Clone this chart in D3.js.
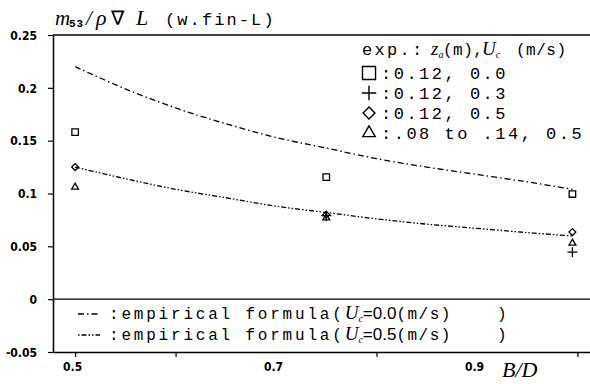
<!DOCTYPE html>
<html>
<head>
<meta charset="utf-8">
<script src="https://cdn.jsdelivr.net/npm/d3@7"></script>
<style>
  html, body { margin: 0; padding: 0; background: #fff; }
  svg { display: block; }
  .tick text { font-family: "Liberation Sans Narrow", "DejaVu Sans Condensed", sans-serif; font-size: 12px; font-weight: bold; fill: #000; }
  .mono { font-family: "Liberation Mono", "DejaVu Sans Mono", monospace; fill: #000; }
  .it { font-family: "Liberation Serif", "DejaVu Serif", serif; font-style: italic; fill: #000; }
</style>
</head>
<body>
<svg id="chart" width="590" height="384"></svg>
<script>
// B/D positions of the three hull models
const bdValues = [0.5, 0.75, 0.995];

// measured m53/(rho V L), one array per condition (z_a, U_c)
const squareVals  = [0.158, 0.1155, 0.0995];   // 0.12, 0.0
const plusVals    = [null, 0.079, 0.0445];     // 0.12, 0.3
const diamondVals = [0.125, 0.080, 0.0635];    // 0.12, 0.5
const triangleVals = [0.106, 0.077, 0.053];    // .08 to .14, 0.5

// empirical formula curves
const curveBD   = [0.5, 0.55, 0.6, 0.65, 0.7, 0.75, 0.8, 0.85, 0.9, 0.95, 0.995];
const curveUc00 = [0.220, 0.199, 0.181, 0.166, 0.153, 0.143, 0.133, 0.125, 0.118, 0.111, 0.104];
const curveUc05 = [0.125, 0.114, 0.104, 0.096, 0.088, 0.082, 0.076, 0.071, 0.067, 0.063, 0.0598];

// axis ticks
const yTicks = [-0.05, 0, 0.05, 0.1, 0.15, 0.2, 0.25];
const yTickLabels = ["-0.05", "0", "0.05", "0.1", "0.15", "0.2", "0.25"];
const xTicks = [0.5, 0.6, 0.7, 0.8, 0.9, 1.0];
const xTickLabels = ["0.5", "", "0.7", "", "0.9", ""];
const xTickMarked = [true, true, false, true, false, true];

const svg = d3.select("#chart");
const plotL = 53, plotR = 590, plotT = 35, plotB = 352;

const x = d3.scaleLinear().domain([0.478, 1.0125]).range([plotL, plotR]);
const y = d3.scaleLinear().domain([-0.05, 0.25]).range([plotB, plotT]);

// y axis
const yAxis = d3.axisLeft(y).tickValues(yTicks).tickSize(5).tickSizeOuter(0)
  .tickFormat((d, i) => yTickLabels[i]);
const gy = svg.append("g").attr("transform", `translate(${plotL},0)`).call(yAxis);
gy.select(".domain").attr("stroke", "#000").attr("stroke-width", 1.5);
gy.selectAll(".tick line").attr("stroke", "#000").attr("stroke-width", 1.2);
gy.selectAll(".tick text").attr("x", -16).attr("dy", "0.35em");

// x axis
const xAxis = d3.axisBottom(x).tickValues(xTicks).tickSize(5).tickSizeOuter(0)
  .tickFormat((d, i) => xTickLabels[i]);
const gx = svg.append("g").attr("transform", `translate(0,${plotB})`).call(xAxis);
gx.select(".domain").attr("stroke", "#000").attr("stroke-width", 1.5);
gx.selectAll(".tick line").attr("stroke", "#000").attr("stroke-width", 1.2)
  .attr("y2", (d, i) => xTickMarked[i] ? 5 : 0);
gx.selectAll(".tick text").attr("y", 10).attr("dy", "0.71em").attr("dx", -3);

// frame top line and zero line
svg.append("line").attr("x1", plotL).attr("x2", plotR).attr("y1", y(0.25)).attr("y2", y(0.25))
  .attr("stroke", "#000").attr("stroke-width", 1.5);
svg.append("line").attr("x1", plotL).attr("x2", plotR).attr("y1", y(0)).attr("y2", y(0))
  .attr("stroke", "#000").attr("stroke-width", 1.2);

// empirical curves
const line = d3.line().x(d => x(d[0])).y(d => y(d[1])).curve(d3.curveCatmullRom);
svg.append("path").datum(curveBD.map((b, i) => [b, curveUc00[i]]))
  .attr("d", line).attr("fill", "none").attr("stroke", "#000").attr("stroke-width", 1.3)
  .attr("stroke-dasharray", "6,3,1.5,3");
svg.append("path").datum(curveBD.map((b, i) => [b, curveUc05[i]]))
  .attr("d", line).attr("fill", "none").attr("stroke", "#000").attr("stroke-width", 1.3)
  .attr("stroke-dasharray", "5,2,1.5,2,1.5,2");

// markers
const mk = { fill: "none", stroke: "#000", "stroke-width": 1.3 };
function applyAttrs(sel) { Object.entries(mk).forEach(([k, v]) => sel.attr(k, v)); return sel; }

const symSquare = d3.symbol().type(d3.symbolSquare).size(42);
const symDiamond = d3.symbol().type(d3.symbolDiamond2).size(30);
const symTriangle = d3.symbol().type(d3.symbolTriangle2).size(34);
const symPlus = d3.symbol().type(d3.symbolPlus).size(34);

function drawSeries(vals, sym) {
  const pts = bdValues.map((b, i) => [b, vals[i]]).filter(d => d[1] != null);
  applyAttrs(svg.append("g").selectAll("path").data(pts).join("path")
    .attr("transform", d => `translate(${x(d[0])},${y(d[1])})`)
    .attr("d", sym));
}
drawSeries(squareVals, symSquare);
drawSeries(plusVals, symPlus);
drawSeries(diamondVals, symDiamond);
drawSeries(triangleVals, symTriangle);

// title
const title = svg.append("text").attr("y", 25);
title.append("tspan").attr("class", "it").attr("font-size", 21).attr("x", 55).text("m");
title.append("tspan").attr("class", "mono").attr("font-size", 11).attr("font-weight", "bold")
  .attr("x", 69).attr("dy", 2).attr("letter-spacing", 1).text("53");
title.append("tspan").attr("class", "it").attr("font-size", 21).attr("x", 86).attr("dy", -2).text("/");
title.append("tspan").attr("class", "it").attr("font-size", 22).attr("x", 96).text("ρ");
title.append("tspan").attr("font-family", "DejaVu Sans").attr("font-size", 20).attr("x", 111).text("∇");
title.append("tspan").attr("class", "it").attr("font-size", 22).attr("x", 136).text("L");
title.append("tspan").attr("class", "mono").attr("font-size", 17).attr("x", 165)
  .attr("letter-spacing", 2.1).text("(w.fin-L)");

// x axis title
svg.append("text").attr("class", "it").attr("x", 502).attr("y", 377).attr("font-size", 22).text("B/D");

// experiment legend
const legRows = [
  { sym: d3.symbol().type(d3.symbolSquare).size(170), label: ":0.12, 0.0" },
  { sym: d3.symbol().type(d3.symbolPlus).size(70), label: ":0.12, 0.3" },
  { sym: d3.symbol().type(d3.symbolDiamond2).size(90), label: ":0.12, 0.5" },
  { sym: d3.symbol().type(d3.symbolTriangle2).size(110), label: ":.08 to .14, 0.5" }
];
const head = svg.append("text").attr("y", 55);
head.append("tspan").attr("class", "mono").attr("font-size", 17).attr("x", 362)
  .attr("letter-spacing", 2.3).text("exp.:");
head.append("tspan").attr("class", "it").attr("font-size", 19).attr("x", 431).text("z");
head.append("tspan").attr("class", "it").attr("font-size", 10).attr("dy", 3).text("a");
head.append("tspan").attr("class", "mono").attr("font-size", 16).attr("x", 443).attr("dy", -3)
  .attr("letter-spacing", 0.5).text("(m),");
head.append("tspan").attr("class", "it").attr("font-size", 19).attr("x", 482).text("U");
head.append("tspan").attr("class", "it").attr("font-size", 10).attr("dy", 3).text("c");
head.append("tspan").attr("class", "mono").attr("font-size", 16).attr("x", 516).attr("dy", -3)
  .attr("letter-spacing", 0.5).text("(m/s)");

legRows.forEach((r, i) => {
  const cy = 73 + i * 20;
  const p = svg.append("path").attr("transform", `translate(369,${cy})`).attr("d", r.sym());
  applyAttrs(p).attr("stroke-width", 1.4);
  svg.append("text").attr("class", "mono").attr("x", 381).attr("y", cy + 6)
    .attr("font-size", 17).attr("letter-spacing", 2.5).text(r.label);
});

// empirical formula legend
const formulaRows = [
  { dash: "6,3,1.5,3", uc: "=0.0", cy: 314 },
  { dash: "1.5,2,5,2,1.5,2", uc: "=0.5", cy: 335 }
];
formulaRows.forEach(r => {
  svg.append("line").attr("x1", 78).attr("x2", 100).attr("y1", r.cy).attr("y2", r.cy)
    .attr("stroke", "#000").attr("stroke-width", 1.3).attr("stroke-dasharray", r.dash);
  const t = svg.append("text").attr("y", r.cy + 5);
  t.append("tspan").attr("class", "mono").attr("font-size", 16).attr("x", 109)
    .attr("letter-spacing", 2.8).text(":empirical formula(");
  t.append("tspan").attr("class", "it").attr("font-size", 19).text("U");
  t.append("tspan").attr("class", "it").attr("font-size", 10).attr("dy", 3).text("c");
  t.append("tspan").attr("font-family", "Liberation Sans, Arial, sans-serif").attr("font-size", 17)
    .attr("dy", -3).text(r.uc);
  t.append("tspan").attr("class", "mono").attr("font-size", 16).attr("letter-spacing", 1.5).text("(m/s)");
  t.append("tspan").attr("class", "mono").attr("font-size", 16).attr("x", 497).text(")");
});
</script>
</body>
</html>
